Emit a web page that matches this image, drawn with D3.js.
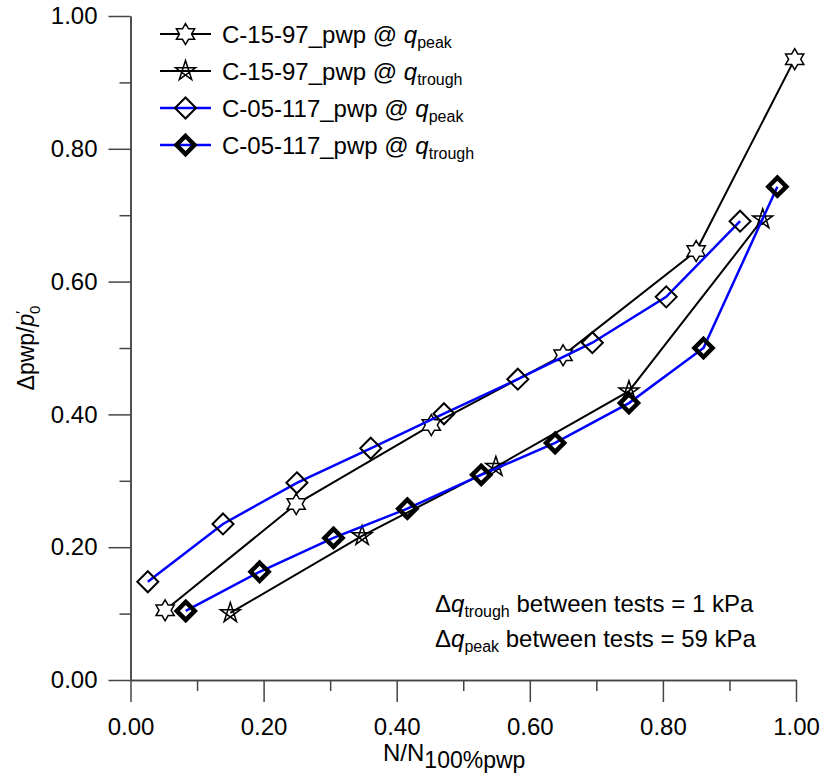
<!DOCTYPE html>
<html>
<head>
<meta charset="utf-8">
<script src="https://cdn.jsdelivr.net/npm/d3@7"></script>
<style>
    body { margin: 0; background: #fff; }
    svg { display: block; font-family: "Liberation Sans", Arial, sans-serif; }
</style>
</head>
<body>
<svg id="svg" width="825" height="778"></svg>
<script>
// Values
var c1597PeakX = [0.052, 0.249, 0.452, 0.650, 0.850, 0.998];
var c1597PeakY = [0.105, 0.265, 0.384, 0.489, 0.646, 0.935];
var c1597TroughX = [0.150, 0.348, 0.549, 0.749, 0.950];
var c1597TroughY = [0.101, 0.217, 0.321, 0.435, 0.694];
var c05117PeakX = [0.026, 0.139, 0.250, 0.361, 0.471, 0.582, 0.694, 0.805, 0.916];
var c05117PeakY = [0.148, 0.235, 0.297, 0.349, 0.401, 0.453, 0.508, 0.577, 0.691];
var c05117TroughX = [0.083, 0.194, 0.305, 0.416, 0.527, 0.638, 0.749, 0.861, 0.972];
var c05117TroughY = [0.104, 0.163, 0.214, 0.258, 0.309, 0.357, 0.417, 0.500, 0.743];

var majorTicks = [0, 0.2, 0.4, 0.6, 0.8, 1.0];
var minorTicks = [0.1, 0.3, 0.5, 0.7, 0.9];

var seriesNames = ["C-15-97_pwp @ ", "C-15-97_pwp @ ", "C-05-117_pwp @ ", "C-05-117_pwp @ "];
var seriesSubs = ["peak", "trough", "peak", "trough"];
var annotations = [["trough", " between tests = 1 kPa"], ["peak", " between tests = 59 kPa"]];

var svg = d3.select("#svg");
var x = d3.scaleLinear().domain([0, 1]).range([130.5, 796]);
var y = d3.scaleLinear().domain([0, 1]).range([680, 16]);

// Marker shapes
function hexagram(r)
{
    var pts = [];
    for (var i = 0; i < 12; i ++)
    {
        var rr = (i % 2 == 0) ? r : r / Math.sqrt(3);
        var a = -Math.PI / 2 + i * Math.PI / 6;
        pts.push([rr * Math.cos(a), rr * Math.sin(a)]);
    }
    return "M" + pts.join("L") + "Z";
}

function pentagram(r)
{
    var outer = [], star = [];
    for (var i = 0; i < 10; i ++)
    {
        var rr = (i % 2 == 0) ? r : r * 0.382;
        var a = -Math.PI / 2 + i * Math.PI / 5;
        star.push([rr * Math.cos(a), rr * Math.sin(a)]);
        if (i % 2 == 0) outer.push([r * Math.cos(a), r * Math.sin(a)]);
    }
    // outline plus the inner crossing lines
    var cross = [outer[0], outer[2], outer[4], outer[1], outer[3]];
    return "M" + star.join("L") + "Z" + "M" + cross.join("L") + "Z";
}

function diamond(r)
{
    return "M0," + (-r) + "L" + r + ",0L0," + r + "L" + (-r) + ",0Z";
}

var series = [
    { xs: c1597PeakX, ys: c1597PeakY, color: "#000", lw: 2, shape: hexagram(10.5), mfill: "#fff", mw: 1.5 },
    { xs: c1597TroughX, ys: c1597TroughY, color: "#000", lw: 2, shape: pentagram(10.5), mfill: "none", mw: 1.5 },
    { xs: c05117PeakX, ys: c05117PeakY, color: "#0000ff", lw: 2.5, shape: diamond(10.5), mfill: "none", mw: 2 },
    { xs: c05117TroughX, ys: c05117TroughY, color: "#0000ff", lw: 2.5, shape: diamond(9), mfill: "none", mw: 4.5 }
];

// Axes
function styleAxis(g)
{
    g.attr("color", "#444").attr("font-size", 24).attr("font-family", null);
    g.selectAll("path, line").attr("stroke-width", 1.5);
    g.selectAll("text").attr("fill", "#000");
}

svg.append("g").attr("transform", "translate(0,680)")
    .call(d3.axisBottom(x).tickValues(majorTicks).tickSize(22).tickPadding(16)
        .tickSizeOuter(0).tickFormat(d3.format(".2f")))
    .call(styleAxis);
svg.append("g").attr("transform", "translate(0,680)")
    .call(d3.axisBottom(x).tickValues(minorTicks).tickSize(11).tickSizeOuter(0).tickFormat(""))
    .call(styleAxis);
svg.append("g").attr("transform", "translate(130.5,0)")
    .call(d3.axisLeft(y).tickValues(majorTicks).tickSize(22).tickPadding(11)
        .tickSizeOuter(0).tickFormat(d3.format(".2f")))
    .call(styleAxis);
svg.append("g").attr("transform", "translate(130.5,0)")
    .call(d3.axisLeft(y).tickValues(minorTicks).tickSize(11).tickSizeOuter(0).tickFormat(""))
    .call(styleAxis);

// Axis titles
var xt = svg.append("text").attr("x", 383).attr("y", 761).attr("font-size", 24);
xt.append("tspan").text("N/N");
xt.append("tspan").attr("dy", 7).attr("font-size", 23).text("100%pwp");

var yt = svg.append("text").attr("transform", "translate(34,348) rotate(-90)")
    .attr("text-anchor", "middle").attr("font-size", 23);
yt.append("tspan").text("\u0394pwp/");
yt.append("tspan").attr("font-style", "italic").text("p");
yt.append("tspan").attr("dy", -8).attr("font-size", 15).text("\u2032");
yt.append("tspan").attr("dy", 14).attr("dx", -3).attr("font-size", 15).text("0");

// Series lines and markers
var line = d3.line().x(d => x(d[0])).y(d => y(d[1]));
series.forEach(function(s)
{
    var pts = s.xs.map((v, i) => [v, s.ys[i]]);
    svg.append("path").attr("d", line(pts)).attr("fill", "none")
        .attr("stroke", s.color).attr("stroke-width", s.lw);
    svg.append("g").selectAll("path").data(pts).join("path")
        .attr("transform", d => `translate(${x(d[0])},${y(d[1])})`)
        .attr("d", s.shape).attr("fill", s.mfill)
        .attr("stroke", "#000").attr("stroke-width", s.mw).attr("stroke-linejoin", "miter");
});

// Legend
var legend = svg.append("g");
series.forEach(function(s, i)
{
    var ly = 34 + i * 37;
    legend.append("line").attr("x1", 160).attr("x2", 211).attr("y1", ly).attr("y2", ly)
        .attr("stroke", s.color).attr("stroke-width", s.lw);
    legend.append("path").attr("transform", `translate(185.5,${ly})`)
        .attr("d", s.shape).attr("fill", s.mfill)
        .attr("stroke", "#000").attr("stroke-width", s.mw);
    var t = legend.append("text").attr("x", 222).attr("y", ly + 8.5).attr("font-size", 24);
    t.append("tspan").text(seriesNames[i]);
    t.append("tspan").attr("font-style", "italic").text("q");
    t.append("tspan").attr("dy", 5).attr("font-size", 16).text(seriesSubs[i]);
});

// Annotation text
annotations.forEach(function(a, i)
{
    var t = svg.append("text").attr("x", 435).attr("y", 612 + i * 35).attr("font-size", 24);
    t.append("tspan").text("\u0394");
    t.append("tspan").attr("font-style", "italic").text("q");
    t.append("tspan").attr("dy", 5).attr("font-size", 16).text(a[0]);
    t.append("tspan").attr("dy", -5).text(a[1]);
});
</script>
</body>
</html>
